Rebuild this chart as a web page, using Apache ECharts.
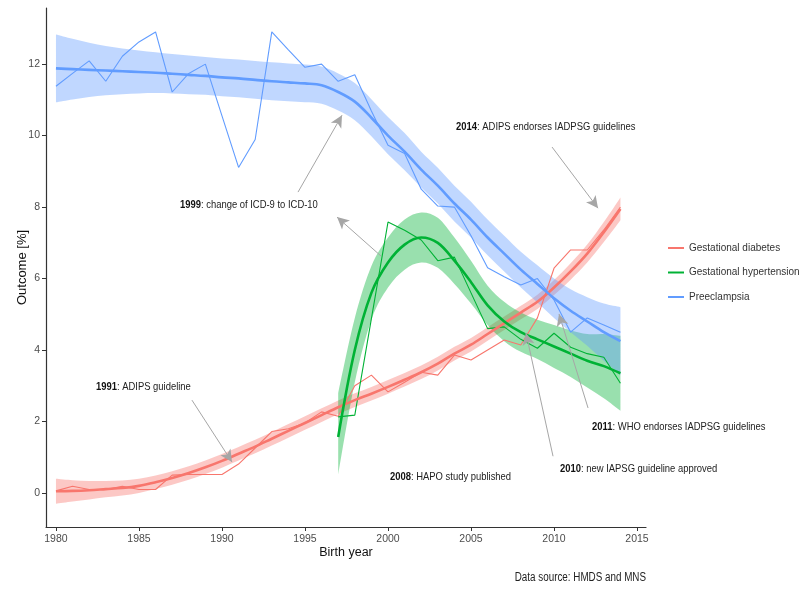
<!DOCTYPE html>
<html>
<head>
<meta charset="utf-8">
<script src="https://cdn.jsdelivr.net/npm/echarts@6/dist/echarts.min.js"></script>
<style>
  html, body { margin: 0; padding: 0; background: #fff; }
  #chart { width: 799px; height: 589px; }
</style>
</head>
<body>
<div id="chart"></div>
<script>
var SANS = "'Liberation Sans', Arial, sans-serif";
var SQUEEZE = 0.82; // the source figure is a bit narrow, text looks condensed

var years = [1980, 1981, 1982, 1983, 1984, 1985, 1986, 1987, 1988, 1989,
  1990, 1991, 1992, 1993, 1994, 1995, 1996, 1997, 1998, 1999,
  2000, 2001, 2002, 2003, 2004, 2005, 2006, 2007, 2008, 2009,
  2010, 2011, 2012, 2013, 2014];
var hyperYears = [1997, 1998, 1999, 2000, 2001, 2002, 2003, 2004, 2005,
  2006, 2007, 2008, 2009, 2010, 2011, 2012, 2013, 2014];

// yearly rates (%)
var diabetesRaw = [0.06, 0.19, 0.1, 0.1, 0.19, 0.1, 0.1, 0.5, 0.52, 0.52,
  0.52, 0.81, 1.26, 1.72, 1.8, 1.96, 2.27, 2.15, 3.0, 3.3,
  2.83, 3.1, 3.38, 3.3, 3.86, 3.72, 4.0, 4.28, 4.14, 4.9,
  6.29, 6.8, 6.8, 7.36, 8.0];
var diabetesFit = [0.05, 0.06, 0.08, 0.11, 0.14, 0.2, 0.3, 0.42, 0.56, 0.72,
  0.9, 1.1, 1.3, 1.52, 1.74, 1.96, 2.18, 2.4, 2.6, 2.78,
  2.97, 3.17, 3.38, 3.62, 3.9, 4.15, 4.45, 4.75, 5.05, 5.35,
  5.75, 6.2, 6.7, 7.3, 7.95];
var diabetesLow = [-0.30, -0.24, -0.18, -0.12, -0.07, 0.0, 0.11, 0.23, 0.37, 0.53,
  0.71, 0.91, 1.11, 1.33, 1.55, 1.77, 1.99, 2.21, 2.41, 2.59,
  2.78, 2.98, 3.19, 3.43, 3.71, 3.96, 4.26, 4.56, 4.86, 5.15,
  5.54, 5.97, 6.45, 7.02, 7.63];
var diabetesHigh = [0.40, 0.36, 0.34, 0.34, 0.35, 0.40, 0.49, 0.61, 0.75, 0.91,
  1.09, 1.29, 1.49, 1.71, 1.93, 2.15, 2.37, 2.59, 2.79, 2.97,
  3.16, 3.36, 3.57, 3.81, 4.09, 4.34, 4.64, 4.94, 5.24, 5.55,
  5.96, 6.43, 6.95, 7.58, 8.27];

var hyperRaw = [2.13, 2.18, 4.88, 7.58, 7.35, 7.08, 6.5, 6.6, 5.6,
  4.6, 4.65, 4.3, 4.05, 4.47, 4.08, 3.9, 3.8, 3.07];
var hyperFit = [1.57, 4.0, 5.6, 6.45, 6.95, 7.15, 7.0, 6.5, 5.9,
  5.25, 4.8, 4.5, 4.3, 4.1, 3.9, 3.7, 3.55, 3.35];
var hyperLow = [0.52, 3.1, 4.85, 5.75, 6.25, 6.45, 6.3, 5.85, 5.3,
  4.7, 4.25, 3.95, 3.75, 3.5, 3.25, 2.95, 2.65, 2.3];
var hyperHigh = [2.8, 4.9, 6.35, 7.15, 7.65, 7.85, 7.7, 7.15, 6.5,
  5.8, 5.35, 5.05, 4.85, 4.7, 4.55, 4.45, 4.45, 4.4];

var preeclRaw = [11.38, 11.74, 12.09, 11.52, 12.22, 12.62, 12.9, 11.22, 11.74, 12.0,
  10.55, 9.11, 9.89, 12.9, 12.4, 11.91, 12.0, 11.52, 11.7, 10.69,
  9.73, 9.5, 8.5, 8.03, 8.0, 7.2, 6.3, 6.05, 5.82, 6.0,
  5.4, 4.5, 4.9, 4.7, 4.5];
var preeclFit = [11.88, 11.86, 11.84, 11.82, 11.8, 11.78, 11.76, 11.73, 11.7, 11.67,
  11.63, 11.6, 11.56, 11.52, 11.49, 11.46, 11.41, 11.22, 10.95, 10.5,
  10.0, 9.55, 9.05, 8.6, 8.1, 7.65, 7.15, 6.7, 6.25, 5.85,
  5.45, 5.1, 4.8, 4.5, 4.25];
var preeclLow = [10.93, 11.01, 11.08, 11.13, 11.16, 11.18, 11.19, 11.18, 11.16, 11.14,
  11.1, 11.07, 11.03, 10.99, 10.96, 10.93, 10.89, 10.7, 10.43, 9.98,
  9.48, 9.03, 8.55, 8.1, 7.6, 7.15, 6.65, 6.2, 5.75, 5.33,
  4.9, 4.5, 4.12, 3.7, 3.3];
var preeclHigh = [12.83, 12.71, 12.6, 12.51, 12.44, 12.38, 12.33, 12.28, 12.24, 12.2,
  12.16, 12.13, 12.09, 12.05, 12.02, 11.99, 11.93, 11.74, 11.47, 11.02,
  10.52, 10.07, 9.55, 9.1, 8.6, 8.15, 7.65, 7.2, 6.75, 6.37,
  6.0, 5.7, 5.48, 5.3, 5.2];

var xTicks = [1980, 1985, 1990, 1995, 2000, 2005, 2010, 2015];
var yTicks = [0, 2, 4, 6, 8, 10, 12];

// annotations: text anchor (left edge, middle) and arrows [from, to] in data units
var notes = [
  { year: '1999', text: 'change of ICD-9 to ICD-10', at: [1987.47, 8.06] },
  { year: '2014', text: 'ADIPS endorses IADPSG guidelines', at: [2004.1, 10.24] },
  { year: '1991', text: 'ADIPS guideline', at: [1982.41, 2.97] },
  { year: '2008', text: 'HAPO study published', at: [2000.12, 0.45] },
  { year: '2010', text: 'new IAPSG guideline approved', at: [2010.36, 0.67] },
  { year: '2011', text: 'WHO endorses IADPSG guidelines', at: [2012.29, 1.85] }
];
var arrows = [
  [[1994.58, 8.42], [1997.23, 10.57]],
  [[1999.58, 6.63], [1996.93, 7.72]],
  [[2009.88, 9.68], [2012.65, 7.97]],
  [[1988.19, 2.6], [1990.6, 0.87]],
  [[2009.94, 1.03], [2008.31, 4.48]],
  [[2012.05, 2.38], [2010.3, 5.01]]
];

var RED = '#F8766D', GREEN = '#00B235', BLUE = '#619CFF';

var pts = (xs, ys) => xs.map((x, i) => [x, ys[i]]);

// catmull-rom through pixel points -> svg path piece
var curve = (p, start) => {
  var d = (start ? 'M' : 'L') + p[0][0] + ' ' + p[0][1];
  for (var i = 0; i < p.length - 1; i++) {
    var p0 = p[i - 1] || p[i], p1 = p[i], p2 = p[i + 1], p3 = p[i + 2] || p[i + 1];
    d += ' C' + (p1[0] + (p2[0] - p0[0]) / 6) + ' ' + (p1[1] + (p2[1] - p0[1]) / 6) +
      ' ' + (p2[0] - (p3[0] - p1[0]) / 6) + ' ' + (p2[1] - (p3[1] - p1[1]) / 6) +
      ' ' + p2[0] + ' ' + p2[1];
  }
  return d;
};

var band = (xs, low, high, color) => ({
  type: 'custom',
  silent: true,
  z: 1,
  data: xs.map((x, i) => [x, low[i], high[i]]),
  encode: { x: 0, y: [1, 2] },
  renderItem: function (params, api) {
    if (params.dataIndex !== 0) return;
    var top = xs.map((x, i) => api.coord([x, high[i]]));
    var bot = xs.map((x, i) => api.coord([x, low[i]])).reverse();
    return {
      type: 'path',
      shape: { pathData: curve(top, true) + ' ' + curve(bot, false) + ' Z' },
      style: { fill: color, opacity: 0.4 }
    };
  }
});

var rawLine = (id, xs, ys, color) => ({
  type: 'line', name: id + '-raw', data: pts(xs, ys), symbol: 'none', silent: true,
  lineStyle: { color: color, width: 1.1 }, z: 2
});

var fitLine = (name, xs, ys, color) => ({
  type: 'line', name: name, data: pts(xs, ys), symbol: 'none', smooth: 0.35, silent: true,
  itemStyle: { color: color },
  lineStyle: { color: color, width: 2.6 }, z: 3
});

var chart = echarts.init(document.getElementById('chart'));

var series = [
  band(years, diabetesLow, diabetesHigh, RED),
  band(hyperYears, hyperLow, hyperHigh, GREEN),
  band(years, preeclLow, preeclHigh, BLUE),
  rawLine('d', years, diabetesRaw, RED),
  rawLine('h', hyperYears, hyperRaw, GREEN),
  rawLine('p', years, preeclRaw, BLUE),
  fitLine('Gestational diabetes', years, diabetesFit, RED),
  fitLine('Gestational hypertension', hyperYears, hyperFit, GREEN),
  fitLine('Preeclampsia', years, preeclFit, BLUE),
  {
    type: 'line', name: 'notes', data: [], silent: true, z: 5,
    markLine: {
      silent: true,
      animation: false,
      symbol: ['none', 'arrow'],
      symbolSize: [9, 12],
      label: { show: false },
      lineStyle: { color: '#a6a6a6', width: 1, type: 'solid' },
      emphasis: { disabled: true },
      data: arrows.map(a => [{ coord: a[0] }, { coord: a[1] }])
    }
  }
];

var axisCommon = {
  splitLine: { show: false },
  axisLine: { show: true, onZero: false, lineStyle: { color: '#333', width: 1.2 } },
  nameMoveOverlap: false
};

chart.setOption({
  animation: false,
  backgroundColor: '#fff',
  grid: { left: 46, right: 153, top: 8, bottom: 62 },
  legend: {
    data: ['Gestational diabetes', 'Gestational hypertension', 'Preeclampsia'],
    orient: 'vertical',
    left: 663,
    top: 236,
    icon: 'rect',
    itemWidth: 16,
    itemHeight: 2,
    itemGap: 10.5,
    selectedMode: false,
    textStyle: { fontFamily: SANS, fontSize: 10, color: '#333', lineHeight: 14 }
  },
  xAxis: Object.assign({}, axisCommon, {
    type: 'value',
    min: 1979.4,
    max: 2015.54,
    name: 'Birth year',
    nameLocation: 'middle',
    nameGap: 19,
    nameTextStyle: { fontFamily: SANS, fontSize: 12.5, color: '#111' },
    axisTick: { show: true, length: 4, customValues: xTicks, lineStyle: { color: '#333' } },
    axisLabel: {
      customValues: xTicks, margin: 7, formatter: v => String(v),
      fontFamily: SANS, fontSize: 10.5, color: '#4d4d4d'
    }
  }),
  yAxis: Object.assign({}, axisCommon, {
    type: 'value',
    min: -0.95,
    max: 13.57,
    name: 'Outcome [%]',
    nameLocation: 'middle',
    nameGap: 17,
    nameTextStyle: { fontFamily: SANS, fontSize: 13, color: '#111' },
    axisTick: { show: true, length: 4, customValues: yTicks, lineStyle: { color: '#333' } },
    axisLabel: {
      customValues: yTicks, margin: 6, formatter: v => String(v),
      fontFamily: SANS, fontSize: 10.5, color: '#4d4d4d'
    }
  }),
  series: series
});

// annotation texts, placed from data units, drawn slightly condensed like the source
var noteGraphics = notes.map(n => {
  var p = chart.convertToPixel({ gridIndex: 0 }, n.at);
  return {
    type: 'text',
    x: p[0],
    y: p[1],
    scaleX: SQUEEZE,
    silent: true,
    z: 10,
    style: {
      text: '{b|' + n.year + '}: ' + n.text,
      fontFamily: SANS,
      fontSize: 11.5,
      fill: '#222',
      verticalAlign: 'middle',
      rich: { b: { fontFamily: SANS, fontSize: 11.5, fontWeight: 'bold', fill: '#111' } }
    }
  };
});

noteGraphics.push({
  type: 'text',
  x: 646,
  y: 578,
  scaleX: SQUEEZE,
  silent: true,
  style: {
    text: 'Data source: HMDS and MNS', fontFamily: SANS, fontSize: 12,
    fill: '#222', align: 'right', verticalAlign: 'middle'
  }
});

chart.setOption({ graphic: noteGraphics });
</script>
</body>
</html>
